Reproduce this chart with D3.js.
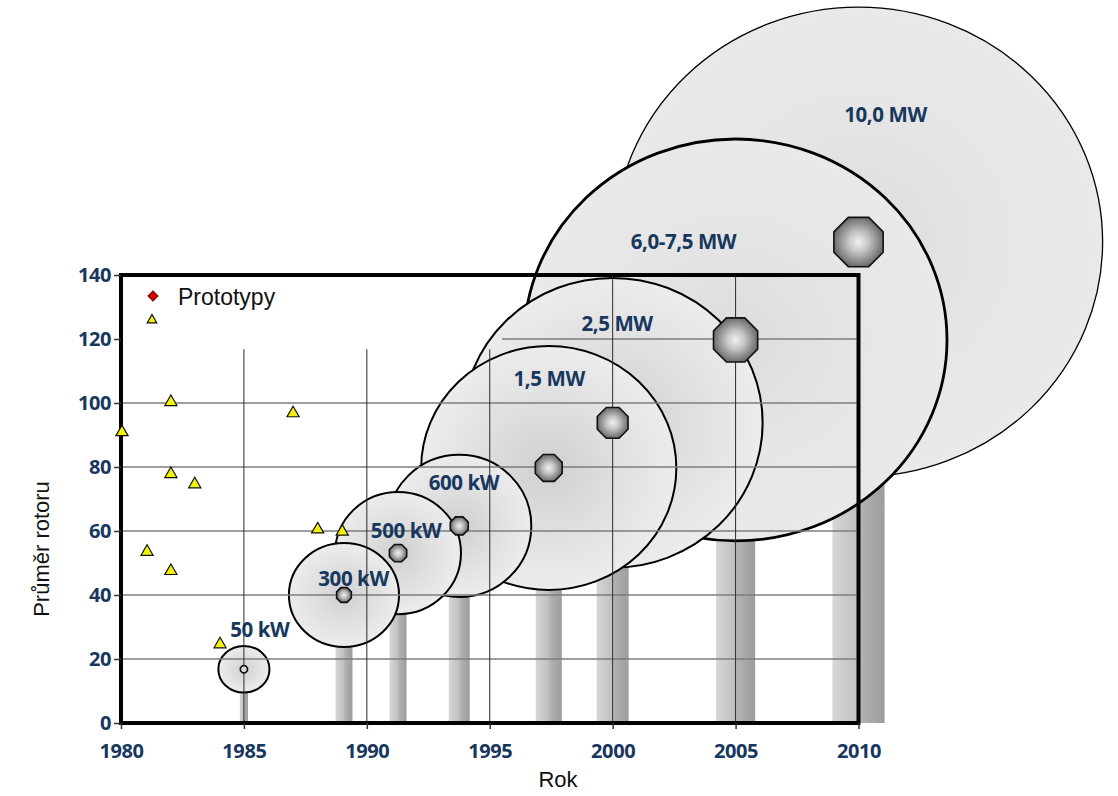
<!DOCTYPE html>
<html><head><meta charset="utf-8">
<script src="https://cdn.jsdelivr.net/npm/d3@7"></script>
<style>body{margin:0;background:#fff}</style>
</head><body><svg id="c" width="1118" height="796"></svg>
<script>
// ---- data ----
const turbineLabels = ["50 kW","300 kW","500 kW","600 kW","1,5 MW","2,5 MW","6,0-7,5 MW","10,0 MW"];
const turbineYear = [1985, 1989.07, 1991.27, 1993.76, 1997.4, 2000, 2005, 2010];
const hubHeight = [16.8, 40, 53.1, 61.6, 79.7, 93.8, 119.7, 150.3];
const rotorRadiusYears = [1.04, 2.24, 2.56, 2.93, 5.19, 6.1, 8.6, 9.93];
const rotorRadius = [7.3, 16.25, 19.1, 22.2, 38.1, 45.3, 62.8, 73.4];
const hubSize = [1.1, 2.3, 2.7, 2.8, 4.2, 4.8, 6.9, 7.7];
const towerWidth = [0.33, 0.69, 0.69, 0.85, 1.06, 1.3, 1.59, 2.12];
const labelYear = [1985.65, 1989.46, 1991.6, 1993.95, 1997.42, 2000.18, 2002.88, 2011.1];
const labelValue = [29.1, 45, 60, 75, 107.5, 124.7, 150.3, 190];
const protoYear = [1981.26, 1980.04, 1982.03, 1982.03, 1983.0, 1981.06, 1982.03, 1984.03, 1987.0, 1988.0, 1989.0];
const protoDiameter = [125.9, 90.9, 100.3, 77.8, 74.6, 53.5, 47.5, 24.6, 96.8, 60.5, 59.8];
const xTicks = [1980, 1985, 1990, 1995, 2000, 2005, 2010];
const yTicks = [0, 20, 40, 60, 80, 100, 120, 140];
const legendLabel = "Prototypy";
const xTitle = "Rok";
const yTitle = "Průměr rotoru";

// ---- scales ----
const x = d3.scaleLinear().domain([1980, 2010]).range([121, 858.5]);
const y = d3.scaleLinear().domain([0, 140]).range([723, 275]);
const pxYears = v => x(1980 + v) - x(1980);
const pxUnits = v => y(0) - y(v);

const svg = d3.select("#c");
const defs = svg.append("defs");

const tg = defs.append("linearGradient").attr("id","tower").attr("x1","0").attr("x2","1").attr("y1","0").attr("y2","0");
[["0%","#d6d6d6"],["50%","#bfbfbf"],["55%","#b2b2b2"],["100%","#9c9c9c"]].forEach(s=>tg.append("stop").attr("offset",s[0]).attr("stop-color",s[1]));

const bg = defs.append("radialGradient").attr("id","bubble");
[["0%","#cfcfcf"],["55%","#e0e0e0"],["100%","#ececec"]].forEach(s=>bg.append("stop").attr("offset",s[0]).attr("stop-color",s[1]));
const bg2 = defs.append("radialGradient").attr("id","bubbleBig");
[["0%","#dcdcdc"],["60%","#e6e6e6"],["100%","#e9e9e9"]].forEach(s=>bg2.append("stop").attr("offset",s[0]).attr("stop-color",s[1]));

const hg = defs.append("radialGradient").attr("id","hub").attr("cx","50%").attr("cy","50%").attr("r","55%");
[["0%","#f0f0f0"],["35%","#c8c8c8"],["100%","#5e5e5e"]].forEach(s=>hg.append("stop").attr("offset",s[0]).attr("stop-color",s[1]));

defs.append("clipPath").attr("id","plot").append("rect")
  .attr("x", x(1980)).attr("y", y(140)).attr("width", x(2010)-x(1980)).attr("height", y(0)-y(140));

const turbines = turbineLabels.map((l,i)=>({label:l, year:turbineYear[i], h:hubHeight[i],
  rx:pxYears(rotorRadiusYears[i]), ry:pxUnits(rotorRadius[i]), hub:pxUnits(hubSize[i]),
  tw:pxYears(towerWidth[i]), ly:labelYear[i], lv:labelValue[i], i}));

// towers
svg.append("g").selectAll("rect").data(turbines).join("rect")
  .attr("x", d=>x(d.year)-d.tw/2).attr("width", d=>d.tw)
  .attr("y", d=>y(d.h)).attr("height", d=>y(0)-y(d.h))
  .attr("fill","url(#tower)");

// rotors (largest first)
svg.append("g").selectAll("ellipse").data(turbines.slice().reverse()).join("ellipse")
  .attr("cx", d=>x(d.year)).attr("cy", d=>y(d.h)).attr("rx", d=>d.rx).attr("ry", d=>d.ry)
  .attr("fill", d=>d.i>=6 ? "url(#bubbleBig)" : "url(#bubble)")
  .attr("stroke","#000")
  .attr("stroke-width", d=>d.i===7 ? 1.3 : (d.i===6 ? 2.8 : 2));

// gridlines
const grid = svg.append("g").attr("clip-path","url(#plot)");
yTicks.filter(v=>v>0 && v<140).forEach(v=>{
  grid.append("line").attr("x1", v===120 ? x(1995.5) : x(1980)).attr("x2", x(2010))
    .attr("y1", y(v)).attr("y2", y(v)).attr("stroke","#7c7c7c").attr("stroke-width",1.6);
});
xTicks.filter(v=>v>1980 && v<2010).forEach(v=>{
  grid.append("line").attr("x1", x(v)).attr("x2", x(v))
    .attr("y1", v<2000 ? y(116.8) : y(140)).attr("y2", y(0)).attr("stroke","#2a2a2a").attr("stroke-width",1);
});

// frame
svg.append("rect").attr("x", x(1980)).attr("y", y(140)).attr("width", x(2010)-x(1980)).attr("height", y(0)-y(140))
  .attr("fill","none").attr("stroke","#000").attr("stroke-width",4);

// hubs (octagons)
const oct = r => { const R = r/Math.cos(Math.PI/8); return d3.range(8).map(k=>{const a=Math.PI/8+k*Math.PI/4; return [R*Math.cos(a), R*Math.sin(a)];}); };
svg.append("g").selectAll("path").data(turbines).join("path")
  .attr("transform", d=>`translate(${x(d.year)},${y(d.h)})`)
  .attr("d", d=>d3.line()(oct(d.hub))+"Z")
  .attr("fill", d=>d.i===0 ? "#d8d8d8" : "url(#hub)").attr("stroke","#111").attr("stroke-width",1.6);

// labels
const boldFont = "'Open Sans', Lato, sans-serif";
svg.append("g").selectAll("text").data(turbines).join("text")
  .attr("x", d=>x(d.ly)).attr("y", d=>y(d.lv)).attr("dy","0.36em")
  .attr("text-anchor","middle").attr("font-family",boldFont)
  .attr("font-weight","bold").attr("font-size",20.5).attr("fill","#17375e")
  .attr("letter-spacing","-0.4")
  .text(d=>d.label);

// axes
const yAx = svg.append("g").attr("transform",`translate(${x(1980)},0)`)
  .call(d3.axisLeft(y).tickValues(yTicks).tickSize(7).tickPadding(3).tickFormat(d3.format("d")));
const xAx = svg.append("g").attr("transform",`translate(0,${y(0)})`)
  .call(d3.axisBottom(x).tickValues(xTicks).tickSize(6).tickPadding(15).tickFormat(d3.format("d")));
[yAx, xAx].forEach(g=>{
  g.select(".domain").remove();
  g.selectAll(".tick line").attr("stroke","#333").attr("stroke-width",1.5);
  g.selectAll("text").attr("font-family",boldFont).attr("font-weight","bold")
    .attr("font-size",20).attr("letter-spacing","-0.4").attr("fill","#17375e");
});

// prototypes
const tri = d3.symbol().type(d3.symbolTriangle);
svg.append("g").selectAll("path").data(protoYear.map((yr,i)=>({yr, d:protoDiameter[i], i}))).join("path")
  .attr("transform", d=>`translate(${x(d.yr)},${y(d.d)})`)
  .attr("d", d=>tri.size(d.i===0 ? 40 : 64)())
  .attr("fill","#f2f20a").attr("stroke","#111").attr("stroke-width",1.2);

// legend
svg.append("path").attr("transform",`translate(153,296)`)
  .attr("d", d3.symbol().type(d3.symbolDiamond2).size(70)())
  .attr("fill","#d40000").attr("stroke","#4a0000").attr("stroke-width",1);
svg.append("text").attr("x",178).attr("y",305).attr("font-family","'Liberation Sans', Arial, sans-serif")
  .attr("font-size",23).attr("fill","#111").text(legendLabel);

// titles
svg.append("text").attr("x", 558).attr("y", 787).attr("text-anchor","middle")
  .attr("font-family","'Liberation Sans', Arial, sans-serif").attr("font-size",22).attr("fill","#111").text(xTitle);
svg.append("text").attr("transform","translate(49,549) rotate(-90)").attr("text-anchor","middle")
  .attr("font-family","'Liberation Sans', Arial, sans-serif").attr("font-size",22).attr("fill","#111").text(yTitle);
</script>
</body></html>
